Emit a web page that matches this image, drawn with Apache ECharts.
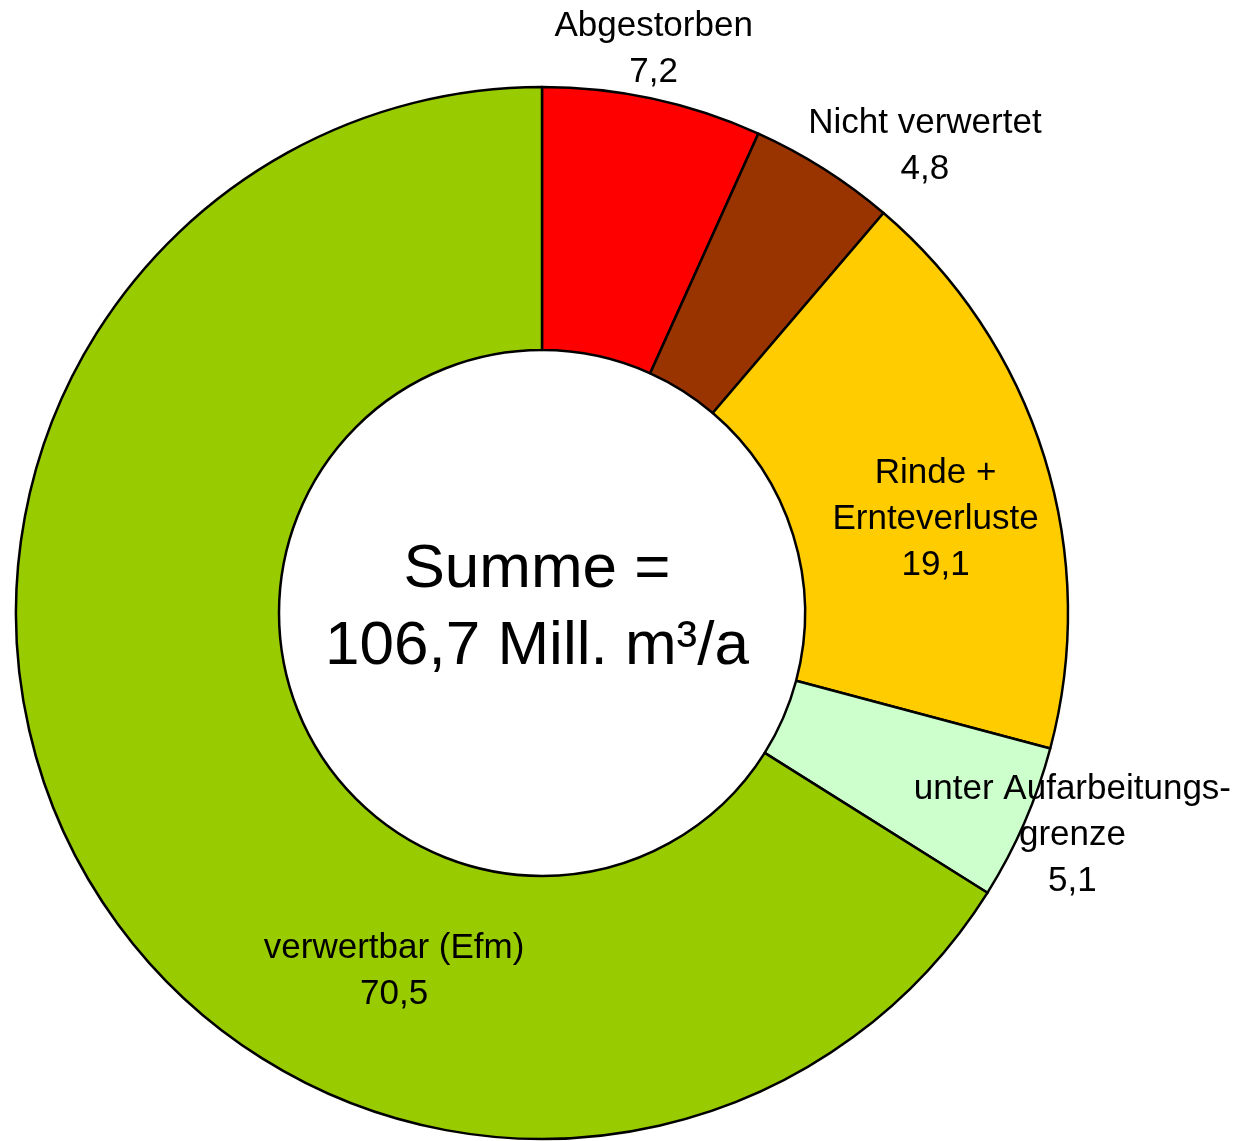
<!DOCTYPE html>
<html>
<head>
<meta charset="utf-8">
<script src="https://cdn.jsdelivr.net/npm/echarts@6/dist/echarts.min.js"></script>
<style>
    html, body {
        margin: 0;
        padding: 0;
        background: #fff;
    }
    #chart {
        width: 1242px;
        height: 1141px;
    }
</style>
</head>
<body>
<div id="chart"></div>
<script>
// Holzaufkommen, Mill. m³/a
var categories = [
    "Abgestorben",
    "Nicht verwertet",
    "Rinde +\nErnteverluste",
    "unter Aufarbeitungs-\ngrenze",
    "verwertbar (Efm)"
];
var values = [7.2, 4.8, 19.1, 5.1, 70.5];
var colors = ["#FF0000", "#993300", "#FFCC00", "#CCFFCC", "#99CC00"];
var centerText = "Summe =\n106,7 Mill. m³/a";

// verschiebung der beschriftung gegenueber der ring-mitte
var labelShift = [
    [28, -175],
    [170, -131],
    [14, 24],
    [166, 64],
    [200, 166]
];

var fontFamily = "'Liberation Sans', Arial, sans-serif";

var myChart = echarts.init(document.getElementById("chart"));

var pieData = categories.map(function (name, i) {
    return {
        name: name,
        value: values[i],
        itemStyle: {
            color: colors[i]
        }
    };
});

myChart.setOption({
    animation: false,
    series: [
        {
            type: "pie",
            center: [542, 613],
            radius: [263, 526],
            startAngle: 90,
            clockwise: true,
            avoidLabelOverlap: false,
            itemStyle: {
                borderColor: "#000",
                borderWidth: 2.5
            },
            emphasis: {
                disabled: true
            },
            label: {
                show: true,
                position: "inside",
                color: "#000",
                fontSize: 35,
                lineHeight: 46,
                fontFamily: fontFamily,
                align: "center",
                formatter: function (p) {
                    return p.name + "\n" + String(p.value).replace(".", ",");
                }
            },
            labelLine: {
                show: false
            },
            labelLayout: function (params) {
                var s = labelShift[params.dataIndex];
                return {
                    dx: s[0],
                    dy: s[1]
                };
            },
            data: pieData
        }
    ],
    graphic: [
        {
            type: "text",
            x: 537,
            y: 608,
            style: {
                text: centerText,
                fill: "#000",
                font: "62px " + fontFamily,
                lineHeight: 77,
                align: "center",
                verticalAlign: "middle"
            }
        }
    ]
});
</script>
</body>
</html>
